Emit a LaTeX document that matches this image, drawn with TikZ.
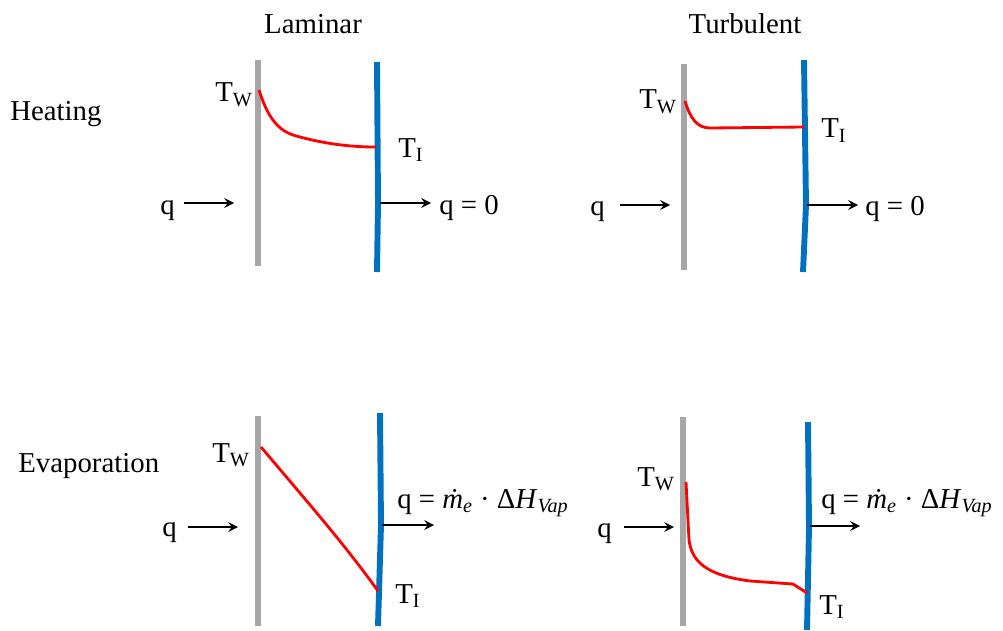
\documentclass[tikz,border=0pt]{standalone}
\usepackage{fontspec}
\setmainfont{Liberation Serif}
\usepackage{xcolor}
\usetikzlibrary{arrows, positioning}
\definecolor{wallgray}{RGB}{166,166,166}
\definecolor{ifaceblue}{RGB}{0,112,192}
\tikzstyle{wall} = [draw=wallgray, line width=4.2pt]
\tikzstyle{iface} = [draw=ifaceblue, line width=4.2pt, line join=round]
\tikzstyle{profile} = [draw=red, line width=2pt, line join=round]
\tikzstyle{arrow} = [line width=2pt,->,>=stealth]
\tikzstyle{lbl} = [inner sep=0pt, anchor=base west]
\newcommand{\evapflux}{q = \textit{\.{m}}\textsubscript{\textit{e}} · Δ\textit{H}\textsubscript{\textit{Vap}}}

\begin{document}
\begin{tikzpicture}[x=0.025cm, y=-0.025cm, font=\fontsize{20.5}{24}\selectfont]
        \useasboundingbox (0,0) rectangle (1003,630);

        % headings
        \node (lam) [lbl, anchor=base] at (313,34) {Laminar};
        \node (turb) [lbl, anchor=base] at (745,34) {Turbulent};
        \node (heat) [lbl] at (10,120) {Heating};
        \node (evap) [lbl] at (18,472) {Evaporation};

        % laminar, heating
        \draw [wall] (258,60) -- (258,266);
        \draw [iface] (377,62) -- (378,203) -- (377,272);
        \draw [profile] (259,90) .. controls (270,125) and (283,133) .. (300,137)
                        .. controls (330,145) and (355,147) .. (376,147);
        \node (tw1) [lbl, anchor=base east] at (253,102) {T\textsubscript{W}};
        \node (ti1) [lbl] at (398,157) {T\textsubscript{I}};
        \node (qa1) [lbl] at (160,214) {q};
        \coordinate (qa1s) at (184,203);
        \coordinate (qa1e) at (234,203);
        \coordinate (qb1s) at (380,203);
        \coordinate (qb1e) at (431,203);
        \node (qb1) [lbl] at (439,214) {q = 0};
        \draw [arrow] (qa1s) -- (qa1e);
        \draw [arrow] (qb1s) -- (qb1e);

        % turbulent, heating
        \draw [wall] (684,64) -- (684,270);
        \draw [iface] (804,60) -- (806,205) -- (803,272);
        \draw [profile] (685,101) .. controls (690,118) and (697,128) .. (710,128) -- (804,127);
        \node (tw2) [lbl, anchor=base east] at (677,109) {T\textsubscript{W}};
        \node (ti2) [lbl] at (821,138) {T\textsubscript{I}};
        \node (qa2) [lbl] at (590,215) {q};
        \coordinate (qa2s) at (620,205);
        \coordinate (qa2e) at (670,205);
        \coordinate (qb2s) at (807,205);
        \coordinate (qb2e) at (858,205);
        \node (qb2) [lbl] at (865,215) {q = 0};
        \draw [arrow] (qa2s) -- (qa2e);
        \draw [arrow] (qb2s) -- (qb2e);

        % laminar, evaporation
        \draw [wall] (258,416) -- (258,626);
        \draw [iface] (380,413) -- (381,525) -- (378,626);
        \draw [profile] (261,447) .. controls (310,505) and (345,545) .. (378,591);
        \node (tw3) [lbl, anchor=base east] at (250,462) {T\textsubscript{W}};
        \node (ti3) [lbl] at (395,603) {T\textsubscript{I}};
        \node (qa3) [lbl] at (162,536) {q};
        \coordinate (qa3s) at (188,527);
        \coordinate (qa3e) at (238,527);
        \coordinate (qb3s) at (382,525);
        \coordinate (qb3e) at (434,525);
        \node (qb3) [lbl] at (397,508) {\evapflux};
        \draw [arrow] (qa3s) -- (qa3e);
        \draw [arrow] (qb3s) -- (qb3e);

        % turbulent, evaporation
        \draw [wall] (683,417) -- (683,626);
        \draw [iface] (808,422) -- (809,527) -- (807,630);
        \draw [profile] (686,482) -- (689,540) .. controls (692,565) and (712,576) .. (750,581)
                        -- (793,584) -- (807,593);
        \node (tw4) [lbl, anchor=base east] at (675,486) {T\textsubscript{W}};
        \node (ti4) [lbl] at (819,614) {T\textsubscript{I}};
        \node (qa4) [lbl] at (597,537) {q};
        \coordinate (qa4s) at (624,527);
        \coordinate (qa4e) at (674,527);
        \coordinate (qb4s) at (810,526);
        \coordinate (qb4e) at (860,526);
        \node (qb4) [lbl] at (821,508) {\evapflux};
        \draw [arrow] (qa4s) -- (qa4e);
        \draw [arrow] (qb4s) -- (qb4e);
    \end{tikzpicture}
\end{document}
